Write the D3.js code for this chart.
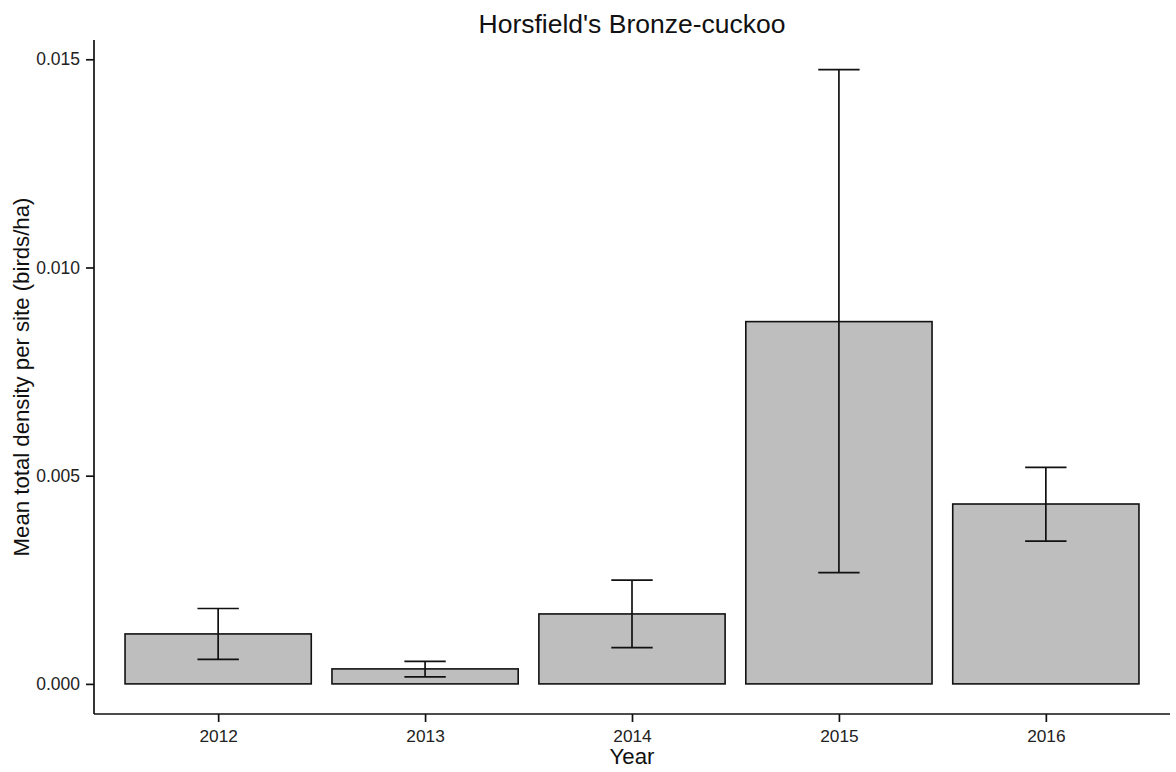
<!DOCTYPE html>
<html>
<head>
<meta charset="utf-8">
<script src="https://cdn.jsdelivr.net/npm/d3@7"></script>
<style>
  html, body { margin: 0; padding: 0; background: #ffffff; }
  svg { display: block; font-family: "Liberation Sans", Arial, sans-serif; }
</style>
</head>
<body>
<svg id="chart" width="1176" height="772"></svg>
<script>
// ---- Data ----
const years = ["2012", "2013", "2014", "2015", "2016"];
const meanDensity = [0.00120, 0.00036, 0.00168, 0.00870, 0.00432];
const lowerCI = [0.00059, 0.00017, 0.00087, 0.00267, 0.00343];
const upperCI = [0.00181, 0.00054, 0.00249, 0.01475, 0.00520];
const yTicks = [0.000, 0.005, 0.010, 0.015];

const titleText = "Horsfield's Bronze-cuckoo";
const xTitle = "Year";
const yTitle = "Mean total density per site (birds/ha)";

// ---- Layout ----
const W = 1176, H = 772;
const panel = { left: 94, right: 1170, top: 40, bottom: 714 };

const svg = d3.select("#chart");

// discrete x scale with ggplot-like 0.6 expansion
const nCat = years.length;
const unit = (panel.right - panel.left) / (nCat - 1 + 1.2);
const x = d3.scaleLinear()
  .domain([-0.6, nCat - 1 + 0.6])
  .range([panel.left, panel.right]);
const xPos = d => x(years.indexOf(d));

const y = d3.scaleLinear()
  .domain([-0.000723, 0.015463])
  .range([panel.bottom, panel.top]);

const rows = years.map((yr, i) => ({ yr, v: meanDensity[i], lo: lowerCI[i], hi: upperCI[i] }));

// Bars
const barW = 0.9 * unit;
svg.append("g").selectAll("rect").data(rows).join("rect")
  .attr("x", d => xPos(d.yr) - barW / 2)
  .attr("y", d => y(d.v))
  .attr("width", barW)
  .attr("height", d => y(0) - y(d.v))
  .attr("fill", "#bebebe")
  .attr("stroke", "#111")
  .attr("stroke-width", 1.6);

// Error bars
const capW = 0.1 * unit;
const eb = svg.append("g").attr("stroke", "#111").attr("stroke-width", 1.7).attr("fill", "none");
rows.forEach(d => {
  const cx = xPos(d.yr);
  eb.append("line").attr("x1", cx).attr("x2", cx).attr("y1", y(d.lo)).attr("y2", y(d.hi));
  eb.append("line").attr("x1", cx - capW).attr("x2", cx + capW).attr("y1", y(d.hi)).attr("y2", y(d.hi));
  eb.append("line").attr("x1", cx - capW).attr("x2", cx + capW).attr("y1", y(d.lo)).attr("y2", y(d.lo));
});

// Y axis
const yAxis = d3.axisLeft(y).tickValues(yTicks).tickFormat(d3.format(".3f")).tickSize(8).tickPadding(6);
const gy = svg.append("g").attr("transform", `translate(${panel.left},0)`).call(yAxis);
gy.select(".domain").remove();
gy.append("line").attr("x1", 0).attr("x2", 0).attr("y1", panel.top).attr("y2", panel.bottom)
  .attr("stroke", "#111").attr("stroke-width", 1.7);
gy.selectAll(".tick line").attr("stroke", "#111").attr("stroke-width", 1.7);
gy.selectAll(".tick text").attr("font-size", 17.5).attr("fill", "#222");

// X axis
const xBand = d3.scalePoint().domain(years).range([x(0), x(nCat - 1)]);
const xAxis = d3.axisBottom(xBand).tickSize(8).tickPadding(7.5);
const gx = svg.append("g").attr("transform", `translate(0,${panel.bottom})`).call(xAxis);
gx.select(".domain").remove();
gx.append("line").attr("x1", panel.left).attr("x2", panel.right).attr("y1", 0).attr("y2", 0)
  .attr("stroke", "#111").attr("stroke-width", 1.7);
gx.selectAll(".tick line").attr("stroke", "#111").attr("stroke-width", 1.7);
gx.selectAll(".tick text").attr("font-size", 17.3).attr("fill", "#222");

// Titles
svg.append("text")
  .attr("x", (panel.left + panel.right) / 2).attr("y", 33)
  .attr("text-anchor", "middle").attr("font-size", 26.5).attr("fill", "#111")
  .text(titleText);

svg.append("text")
  .attr("x", (panel.left + panel.right) / 2).attr("y", 764)
  .attr("text-anchor", "middle").attr("font-size", 22.2).attr("fill", "#111")
  .text(xTitle);

svg.append("text")
  .attr("transform", `translate(29,${(panel.top + panel.bottom) / 2}) rotate(-90)`)
  .attr("text-anchor", "middle").attr("font-size", 22.2).attr("fill", "#111")
  .text(yTitle);
</script>
</body>
</html>
